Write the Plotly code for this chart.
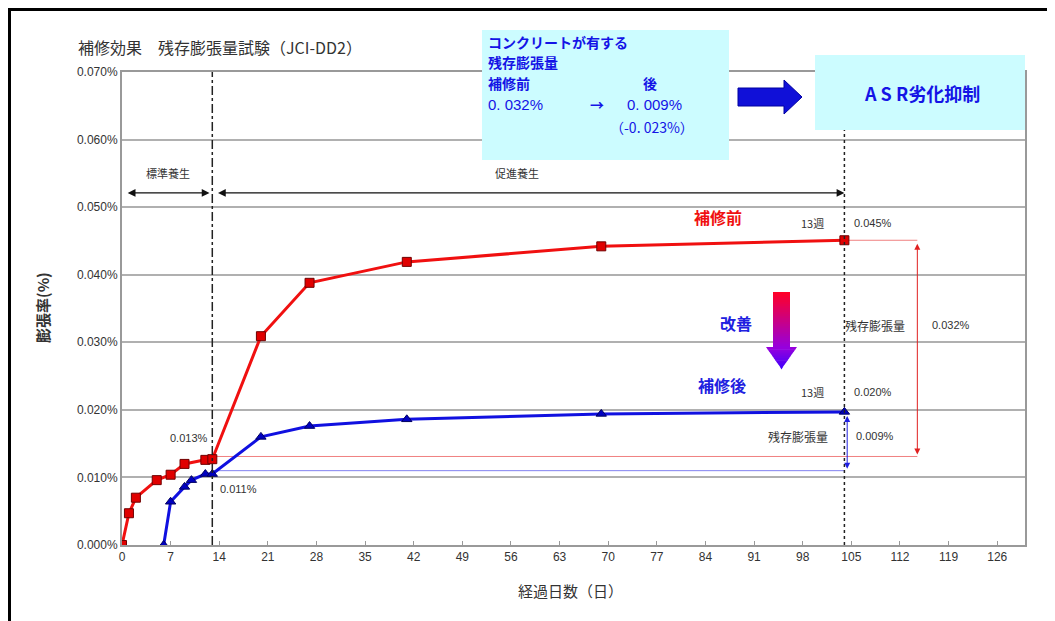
import plotly.graph_objects as go

# ---- data (expansion rate, %) ----
days_before = [0, 1, 2, 5, 7, 9, 12, 13, 20, 27, 41, 69, 104]
exp_before = [0.0, 0.0047, 0.0070, 0.0096, 0.0104, 0.0120, 0.0126, 0.0127, 0.0309, 0.0388, 0.0419, 0.0442, 0.0451]
days_after = [6, 7, 9, 10, 12, 13, 20, 27, 41, 69, 104]
exp_after = [0.0, 0.0064, 0.0086, 0.0096, 0.0105, 0.0105, 0.0160, 0.0176, 0.0186, 0.0194, 0.0197]
x_ticks = list(range(0, 127, 7))
y_ticks = [0.0, 0.01, 0.02, 0.03, 0.04, 0.05, 0.06, 0.07]
repair_day = 13
end_day = 104
resid_before = 0.032
resid_after = 0.009

OFF = 8  # page body margin
W, H = 1055 - OFF, 621 - OFF
L, R, T, B = 122, 1025, 72, 545  # screen pixel positions of plot area


def X(px):
    return (px - L) / (R - L)


def Y(py):
    return (B - py) / (B - T)


JP = "'Noto Sans CJK JP', 'Liberation Sans', Arial, sans-serif"
NUM = "'Liberation Sans', Arial, 'Noto Sans CJK JP', sans-serif"
RED = "#F01010"
BLUE = "#1010E0"

fig = go.Figure()

fig.add_trace(go.Scatter(
    x=days_before, y=exp_before, mode="lines+markers", name="補修前",
    line=dict(color=RED, width=3),
    marker=dict(symbol="square", size=9, color="#E00000", line=dict(color="#700000", width=1)),
))
fig.add_trace(go.Scatter(
    x=days_after, y=exp_after, mode="lines+markers", name="補修後",
    line=dict(color=BLUE, width=3),
    marker=dict(symbol="triangle-up", size=9, color="#0000C0", line=dict(color="#000060", width=1)),
))

shapes = []
yendb = exp_before[-1]
yenda = exp_after[-1]
shapes.append(dict(type="line", x0=repair_day, x1=114.5, y0=0.0131, y1=0.0131,
                   line=dict(color="#F08080", width=1), layer="below"))
shapes.append(dict(type="line", x0=repair_day, x1=end_day, y0=0.011, y1=0.011,
                   line=dict(color="#8080F0", width=1), layer="below"))
shapes.append(dict(type="line", x0=end_day, x1=114.5, y0=yendb, y1=yendb,
                   line=dict(color="#F08080", width=1), layer="below"))
# vertical lines
shapes.append(dict(type="line", x0=repair_day, x1=repair_day, y0=0, y1=0.0705,
                   line=dict(color="#222", width=1.5, dash="dashdot")))
shapes.append(dict(type="line", x0=end_day, x1=end_day, y0=0, y1=0.066,
                   line=dict(color="#222", width=1.5, dash="dot")))

# cyan boxes
shapes.append(dict(type="rect", xref="paper", yref="paper", x0=X(482), x1=X(729), y0=Y(160), y1=Y(30),
                   fillcolor="#CCFCFF", line=dict(width=0), layer="above"))
shapes.append(dict(type="rect", xref="paper", yref="paper", x0=X(815), x1=X(1025), y0=Y(130), y1=Y(55),
                   fillcolor="#CCFCFF", line=dict(width=0), layer="above"))
# big blue arrow
shapes.append(dict(type="path", xref="paper", yref="paper",
                   path=f"M {X(738)} {Y(88)} L {X(784)} {Y(88)} L {X(784)} {Y(80)} L {X(802)} {Y(97)} "
                        f"L {X(784)} {Y(114)} L {X(784)} {Y(106)} L {X(738)} {Y(106)} Z",
                   fillcolor="#1010D8", line=dict(color="#0000A0", width=1), layer="above"))


def mix(c1, c2, t):
    return "#%02X%02X%02X" % tuple(int(round(a + (b - a) * t)) for a, b in zip(c1, c2))


top_c = (255, 0, 40)
mid_c = (150, 0, 220)
bot_c = (60, 0, 255)
shaft_top, shaft_bot = 292, 348
n = 28
for i in range(n):
    t = i / (n - 1)
    c = mix(top_c, mid_c, t)
    y0 = shaft_top + (shaft_bot - shaft_top) * i / n
    y1 = shaft_top + (shaft_bot - shaft_top) * (i + 1) / n + 0.6
    shapes.append(dict(type="rect", xref="paper", yref="paper", x0=X(773), x1=X(790),
                       y0=Y(y1), y1=Y(y0), fillcolor=c, line=dict(width=0), layer="above"))
m = 10
for i in range(m):
    t = i / m
    c = mix(mid_c, bot_c, t)
    ya = 347 + 22 * i / m
    yb = 347 + 22 * (i + 1) / m + 0.5
    half_a = 15.5 * (1 - (ya - 347) / 22)
    half_b = 15.5 * (1 - (yb - 347) / 22)
    cx = 781.5
    shapes.append(dict(type="path", xref="paper", yref="paper",
                       path=f"M {X(cx-half_a)} {Y(ya)} L {X(cx+half_a)} {Y(ya)} L {X(cx+max(half_b,0))} {Y(yb)} "
                            f"L {X(cx-max(half_b,0))} {Y(yb)} Z",
                       fillcolor=c, line=dict(width=0), layer="above"))

# outer frame (top and left)
shapes.append(dict(type="line", xref="paper", yref="paper", x0=X(8), x1=X(1052), y0=Y(9.5), y1=Y(9.5),
                   line=dict(color="black", width=3)))
shapes.append(dict(type="line", xref="paper", yref="paper", x0=X(9.5), x1=X(9.5), y0=Y(8), y1=Y(625),
                   line=dict(color="black", width=3)))

ann = []


def txt(text, px, py, size=11, color="#333", bold=False, anchor="center", family=JP, angle=0):
    ann.append(dict(text=f"<b>{text}</b>" if bold else text, xref="paper", yref="paper",
                    x=X(px), y=Y(py), xanchor=anchor, yanchor="middle", showarrow=False,
                    textangle=angle, font=dict(size=size, color=color, family=family)))


def darrow(x0, y0, x1, y1, color, width=1, head=2, size=1):
    ann.append(dict(x=x1, y=y1, ax=x0, ay=y0, xref="x", yref="y", axref="x", ayref="y",
                    text="", showarrow=True, arrowhead=head, startarrowhead=head,
                    arrowside="end+start", arrowsize=size, startarrowsize=size,
                    arrowwidth=width, arrowcolor=color))


# curing period arrows
y_arrow = 0.0521
darrow(0.6, y_arrow, repair_day - 0.4, y_arrow, "#111", width=1.2, head=2, size=1.3)
darrow(repair_day + 0.6, y_arrow, end_day, y_arrow, "#111", width=1.2, head=2, size=1.3)
txt("標準養生", 168, 173, size=11)
txt("促進養生", 517, 173, size=11)

# residual arrows
darrow(114.5, yendb - 0.0003, 114.5, 0.0134, "#E02020", width=1, head=2, size=1.2)
darrow(104.4, yenda - 0.0004, 104.4, 0.0113, "#2020E0", width=1, head=2, size=1.2)

# labels
txt("0.013%", 189, 438, size=11, family=NUM)
txt("0.011%", 238, 489, size=11, family=NUM)
txt("13週", 826, 223, size=11, anchor="right")
txt(f"{yendb:.3f}%", 852, 223, size=11, anchor="left", family=NUM)
txt("13週", 826, 392, size=11, anchor="right")
txt(f"{yenda:.3f}%", 852, 392, size=11, anchor="left", family=NUM)
txt("残存膨張量", 875, 325, size=12)
txt(f"{resid_before:.3f}%", 930, 325, size=11, anchor="left", family=NUM)
txt("残存膨張量", 798, 436, size=12)
txt(f"{resid_after:.3f}%", 854, 436, size=11, anchor="left", family=NUM)
txt("補修前", 718, 217, size=16, color="#F01010", bold=True)
txt("改善", 736, 323, size=16, color="#2020E0", bold=True)
txt("補修後", 722, 385, size=16, color="#2020E0", bold=True)

# box texts
BT = "#1414E6"
txt("コンクリートが有する", 486, 42, size=14, color=BT, bold=True, anchor="left")
txt("残存膨張量", 486, 62, size=14, color=BT, bold=True, anchor="left")
txt("補修前", 486, 83, size=14, color=BT, bold=True, anchor="left")
txt("後", 650, 83, size=14, color=BT, bold=True)
txt("0. 032%", 486, 104, size=15, color=BT, anchor="left", family=NUM)
txt("→", 597, 104, size=14, color=BT, bold=True)
txt("0. 009%", 654, 104, size=15, color=BT, family=NUM)
txt("（-0. 023%）", 652, 127, size=14, color=BT)
txt("A S R劣化抑制", 922, 93, size=18, color=BT, bold=True)

# title and axis titles
txt("補修効果　残存膨張量試験（JCI-DD2）", 76, 47, size=16, color="#333", anchor="left")
txt("<b>膨張率(%)</b>", 42, 308, size=15, color="#333", angle=-90)
txt("経過日数（日）", 570, 590, size=15, color="#333")

fig.update_layout(
    width=W, height=H,
    margin=dict(l=L - OFF, r=W - (R - OFF), t=T - OFF, b=H - (B - OFF), autoexpand=False),
    paper_bgcolor="white", plot_bgcolor="white",
    showlegend=False,
    font=dict(family=NUM, color="#333", size=12),
    shapes=shapes, annotations=ann,
    xaxis=dict(range=[0, 130], tickvals=x_ticks, ticktext=[str(v) for v in x_ticks],
               showgrid=False, zeroline=False, showline=True, linecolor="#999", linewidth=2,
               mirror=True, ticks="inside", ticklen=4, tickcolor="#999", automargin=False,
               tickfont=dict(size=12, color="#333", family=NUM)),
    yaxis=dict(range=[0, 0.07], tickvals=y_ticks, ticktext=[f"{v:.3f}%" for v in y_ticks],
               showgrid=True, gridcolor="#B0B0B0", gridwidth=1.5, zeroline=False,
               showline=True, linecolor="#999", linewidth=2, mirror=True, ticks="", automargin=False,
               tickfont=dict(size=12, color="#333", family=NUM)),
)

fig.write_html("out.html")
